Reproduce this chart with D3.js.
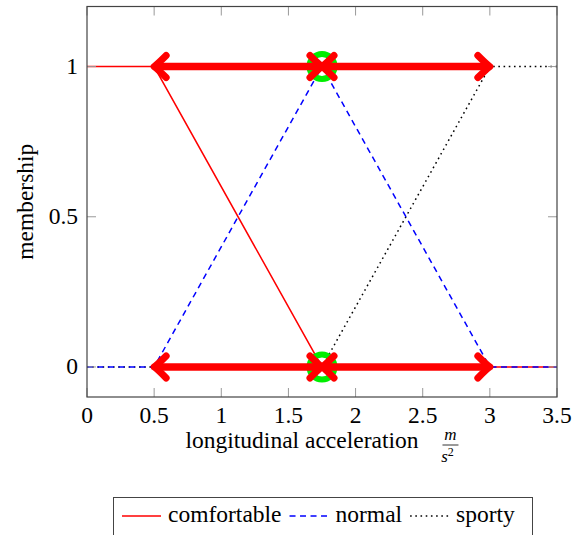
<!DOCTYPE html>
<html>
<head>
<meta charset="utf-8">
<script src="https://cdn.jsdelivr.net/npm/d3@7"></script>
<style>
  body { margin: 0; background: #fff; }
</style>
</head>
<body>
<div id="container"></div>
<script>
// membership functions (x = longitudinal acceleration, y = membership)
const comfortX = [0, 0.5, 1.75, 3.5];
const comfortY = [1, 1, 0, 0];
const normalX = [0, 0.5, 1.75, 3, 3.5];
const normalY = [0, 0, 1, 0, 0];
const sportyX = [0, 1.75, 3, 3.5];
const sportyY = [0, 0, 1, 1];

// double-headed arrows and highlighted points
const arrowSpans = [[0.5, 1.75], [1.75, 3]];
const arrowLevels = [1, 0];
const markX = [1.75, 1.75];
const markY = [1, 0];

const xTicks = [0, 0.5, 1, 1.5, 2, 2.5, 3, 3.5];
const yTicks = [0, 0.5, 1];
const legendNames = ['comfortable', 'normal', 'sporty'];

const W = 572, H = 535;
const margin = { left: 87, right: 15, top: 6.5, bottom: 138 };
const width = W - margin.left - margin.right;
const height = H - margin.top - margin.bottom;
const serif = "'Liberation Serif'";
const fs = 23.5;

const svg = d3.select('#container').append('svg')
  .attr('width', W).attr('height', H)
  .style('font-family', serif);

const x = d3.scaleLinear().domain([0, 3.5]).range([0, width]);
const y = d3.scaleLinear().domain([-0.1, 1.2]).range([height, 0]);

const g = svg.append('g').attr('transform', `translate(${margin.left},${margin.top})`);

const series = [
  { name: 'comfortable', xs: comfortX, ys: comfortY, color: '#ff0000', dash: null },
  { name: 'sporty', xs: sportyX, ys: sportyY, color: '#000000', dash: '1.6,3.6' },
  { name: 'normal', xs: normalX, ys: normalY, color: '#0000ff', dash: '6,4.5' }
];

const line = d3.line().x(d => x(d[0])).y(d => y(d[1]));

series.forEach(s => {
  g.append('path')
    .datum(s.xs.map((v, i) => [v, s.ys[i]]))
    .attr('d', line)
    .attr('fill', 'none')
    .attr('stroke', s.color)
    .attr('stroke-width', 1.5)
    .attr('stroke-dasharray', s.dash);
});

// green rings
g.selectAll('.mark')
  .data(markX.map((v, i) => [v, markY[i]]))
  .enter().append('circle')
  .attr('cx', d => x(d[0]))
  .attr('cy', d => y(d[1]))
  .attr('r', 12.5)
  .attr('fill', 'none')
  .attr('stroke', '#00ee00')
  .attr('stroke-width', 6);

// thick red arrows
function head(tx, ty, dir) {
  const p = d3.path();
  p.moveTo(tx - dir * 12, ty - 11);
  p.quadraticCurveTo(tx - dir * 3, ty - 2, tx, ty);
  p.quadraticCurveTo(tx - dir * 3, ty + 2, tx - dir * 12, ty + 11);
  return p.toString();
}

arrowLevels.forEach(lv => {
  arrowSpans.forEach(sp => {
    const x1 = x(sp[0]), x2 = x(sp[1]), yy = y(lv);
    g.append('line')
      .attr('x1', x1 + 4).attr('x2', x2 - 4)
      .attr('y1', yy).attr('y2', yy)
      .attr('stroke', '#ff0000')
      .attr('stroke-width', 7.5);
    [[x1, -1], [x2, 1]].forEach(h => {
      g.append('path')
        .attr('d', head(h[0], yy, h[1]))
        .attr('fill', 'none')
        .attr('stroke', '#ff0000')
        .attr('stroke-width', 7)
        .attr('stroke-linecap', 'round')
        .attr('stroke-linejoin', 'round');
    });
  });
});

// inward ticks on all sides
const tickLen = 9;
const tickColor = '#999';
xTicks.forEach(t => {
  g.append('line').attr('x1', x(t)).attr('x2', x(t)).attr('y1', height).attr('y2', height - tickLen)
    .attr('stroke', tickColor);
  g.append('line').attr('x1', x(t)).attr('x2', x(t)).attr('y1', 0).attr('y2', tickLen)
    .attr('stroke', tickColor);
});
yTicks.forEach(t => {
  g.append('line').attr('x1', 0).attr('x2', tickLen).attr('y1', y(t)).attr('y2', y(t))
    .attr('stroke', tickColor);
  g.append('line').attr('x1', width).attr('x2', width - tickLen).attr('y1', y(t)).attr('y2', y(t))
    .attr('stroke', tickColor);
});

g.append('rect')
  .attr('x', 0).attr('y', 0).attr('width', width).attr('height', height)
  .attr('fill', 'none').attr('stroke', '#444').attr('stroke-width', 1.2);

// tick labels
g.selectAll('.xlab').data(xTicks).enter().append('text')
  .style('font-family', serif)
  .attr('x', d => x(d)).attr('y', height + 26)
  .attr('text-anchor', 'middle').attr('font-size', fs)
  .text(d => String(d));
g.selectAll('.ylab').data(yTicks).enter().append('text')
  .style('font-family', serif)
  .attr('x', -9).attr('y', d => y(d) + 7.5)
  .attr('text-anchor', 'end').attr('font-size', fs)
  .text(d => String(d));

// y axis label
svg.append('text')
  .style('font-family', serif)
  .attr('transform', `translate(33,${margin.top + height / 2}) rotate(-90)`)
  .attr('text-anchor', 'middle').attr('font-size', fs)
  .text('membership');

// x axis label with fraction m / s^2
const xl = svg.append('g');
const main = xl.append('text').style('font-family', serif)
  .attr('x', 0).attr('y', 448).attr('font-size', fs)
  .text('longitudinal acceleration');
const mainW = main.node().getComputedTextLength();
const fx = mainW + 32;
xl.append('text').style('font-family', serif)
  .attr('x', fx).attr('y', 440).attr('text-anchor', 'middle')
  .attr('font-size', 17).attr('font-style', 'italic').text('m');
xl.append('line').attr('x1', fx - 8).attr('x2', fx + 8).attr('y1', 445).attr('y2', 445)
  .attr('stroke', '#000').attr('stroke-width', 0.8);
const sTxt = xl.append('text').style('font-family', serif)
  .attr('x', fx - 3).attr('y', 462).attr('text-anchor', 'middle')
  .attr('font-size', 17).attr('font-style', 'italic');
sTxt.append('tspan').text('s');
sTxt.append('tspan').attr('dy', -6).attr('font-size', 12).attr('font-style', 'normal').text('2');
const totalW = fx + 8;
xl.attr('transform', `translate(${margin.left + width / 2 - totalW / 2},0)`);

// legend
const lg = svg.append('g');
lg.append('rect').attr('x', 113.5).attr('y', 497.5).attr('width', 419).attr('height', 50)
  .attr('fill', '#fff').attr('stroke', '#444').attr('stroke-width', 1);
const legendStyle = [
  { color: '#ff0000', dash: null },
  { color: '#0000ff', dash: '6,4.5' },
  { color: '#000000', dash: '1.6,3.6' }
];
let cx = 122;
legendNames.forEach((name, i) => {
  lg.append('line').attr('x1', cx).attr('x2', cx + 39).attr('y1', 516).attr('y2', 516)
    .attr('stroke', legendStyle[i].color).attr('stroke-width', 1.5)
    .attr('stroke-dasharray', legendStyle[i].dash);
  const t = lg.append('text').style('font-family', serif)
    .attr('x', cx + 46).attr('y', 522).attr('font-size', fs).text(name);
  cx = cx + 46 + t.node().getComputedTextLength() + 8;
});
</script>
</body>
</html>
